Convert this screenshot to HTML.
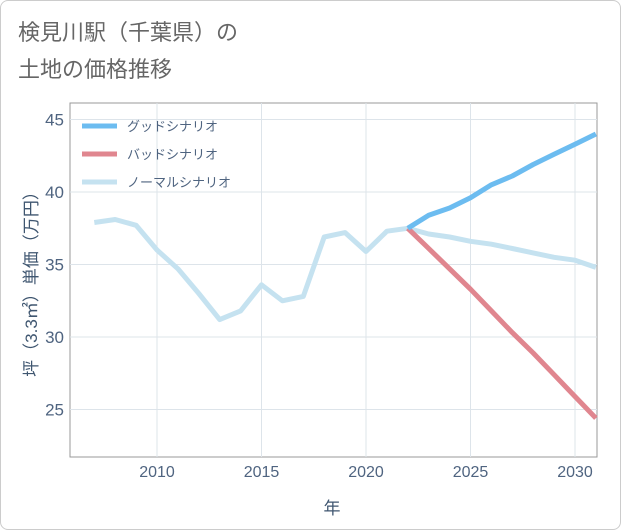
<!DOCTYPE html>
<html><head><meta charset="utf-8"><style>
body{margin:0;background:#fff;font-family:"Liberation Sans","Noto Sans CJK JP",sans-serif;}
#card{position:absolute;left:0;top:0;width:619px;height:528px;border:1px solid #ccc;border-radius:8px;background:#fff;}
</style></head><body>
<div id="card">
<svg id="chart" width="621" height="530" style="position:absolute;left:-1px;top:-1px">
<text x="18" y="40" font-size="22" fill="#666">検見川駅（千葉県）の</text>
<text x="18" y="77" font-size="22" fill="#666">土地の価格推移</text>
<g id="grid"></g><g id="series"></g>
<text x="332" y="514" font-size="17" fill="#3f5670" text-anchor="middle">年</text>
<text transform="translate(37,280) rotate(-90)" font-size="17" fill="#3f5670" text-anchor="middle">坪（3.3㎡）単価（万円）</text>
</svg></div>
<script>
const years=[2007,2008,2009,2010,2011,2012,2013,2014,2015,2016,2017,2018,2019,2020,2021,2022,2023,2024,2025,2026,2027,2028,2029,2030,2031];
const normalVals=[37.9,38.1,37.7,36.0,34.7,33.0,31.2,31.8,33.6,32.5,32.8,36.9,37.2,35.9,37.3,37.5,37.1,36.9,36.6,36.4,36.1,35.8,35.5,35.3,34.8];
const goodYears=[2022,2023,2024,2025,2026,2027,2028,2029,2030,2031];
const goodVals=[37.5,38.4,38.9,39.6,40.5,41.1,41.9,42.6,43.3,44.0];
const badVals=[37.5,36.1,34.7,33.3,31.8,30.3,28.9,27.4,25.9,24.4];
const xTicks=[2010,2015,2020,2025,2030];
const yTicks=[25,30,35,40,45];
const L=70,R=597,T=103,B=457;
const xs=y=>157+(y-2010)*20.9;
const ys=v=>192-(v-40)*14.5;
const NS="http://www.w3.org/2000/svg";
const grid=document.getElementById('grid'),ser=document.getElementById('series');
function mk(p,tag,at){const e=document.createElementNS(NS,tag);for(const k in at)e.setAttribute(k,at[k]);p.appendChild(e);return e;}
const fr=mk(grid,'rect',{x:L,y:T,width:R-L,height:B-T,fill:'#fff',stroke:'#999','stroke-width':1});


xTicks.forEach(t=>{const l=mk(grid,'line',{x1:xs(t),x2:xs(t),y1:T,y2:B,stroke:'#dde4ea'});


const tx=mk(grid,'text',{x:xs(t),y:477,'font-size':16,fill:'#4f6480','text-anchor':'middle'});tx.textContent=t;

});
yTicks.forEach(t=>{const l=mk(grid,'line',{x1:L,x2:R,y1:ys(t),y2:ys(t),stroke:'#dde4ea'});


const tx=mk(grid,'text',{x:64,y:ys(t)+6,'font-size':17,fill:'#4f6480','text-anchor':'end'});tx.textContent=t;

});
function line(xv,vals,color,name){const d=vals.map((v,i)=>(i?'L':'M')+xs(xv[i]).toFixed(1)+','+ys(v).toFixed(1)).join('');
const p=mk(ser,'path',{d:d,fill:'none',stroke:color,'stroke-width':5,'stroke-linejoin':'round'});

}
line(years,normalVals,'#c5e2f0','normal-scenario-line');
line(goodYears,badVals,'#e0868f','bad-scenario-line');
line(goodYears,goodVals,'#6cbcf0','good-scenario-line');
const leg=[['グッドシナリオ','#6cbcf0'],['バッドシナリオ','#e0868f'],['ノーマルシナリオ','#c5e2f0']];
leg.forEach((e,i)=>{const y=126+i*28;
const g=mk(ser,'g',{});


mk(g,'line',{x1:82,x2:117,y1:y,y2:y,stroke:e[1],'stroke-width':5});
const t=mk(g,'text',{x:127,y:y+5,'font-size':13,fill:'#4f6480'});t.textContent=e[0];});
</script>
</body></html>
